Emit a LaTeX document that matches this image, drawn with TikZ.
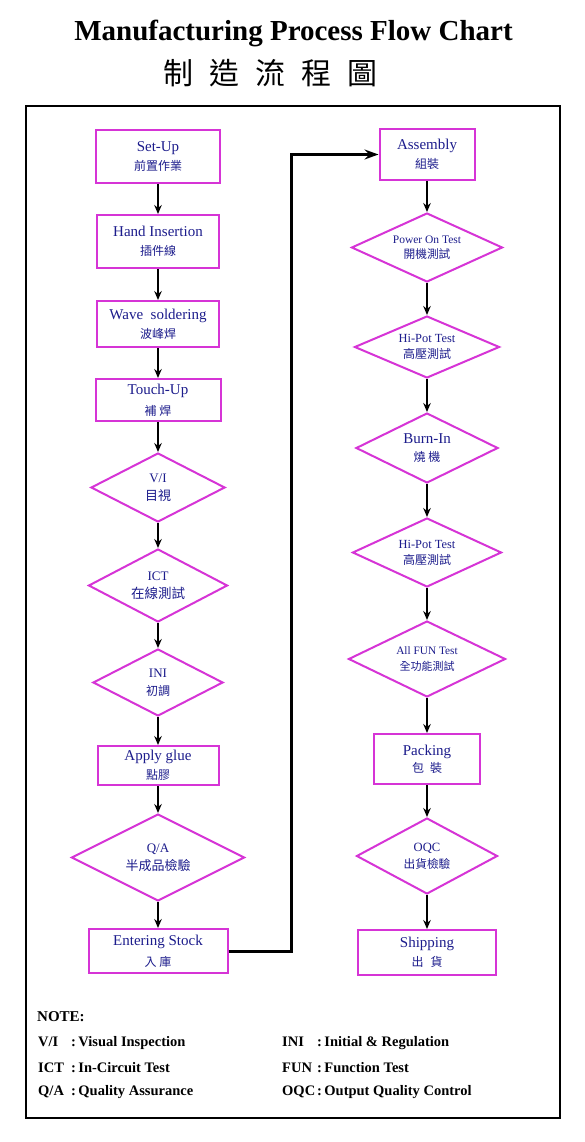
\documentclass[tikz,border=0pt]{standalone}
\usepackage{fontspec}
\setmainfont{Liberation Serif}
\newfontfamily\cjk{Noto Sans CJK TC}
\usepackage{xcolor}
\usepackage{tikz}
\usetikzlibrary{shapes,arrows,arrows.meta,positioning}
\definecolor{boxline}{RGB}{214,52,214}
\definecolor{boxtext}{RGB}{28,28,140}
\newcommand{\zh}[2][12]{{\cjk\fontsize{#1}{19}\selectfont #2}}

\begin{document}
\begin{tikzpicture}[x=1pt, y=-1pt,
    proc/.style={rectangle, draw=boxline, line width=2pt, fill=white, text=boxtext, align=center, font=\fontsize{15}{19}\selectfont, inner sep=0pt},
    check/.style={diamond, aspect=2, draw=boxline, line width=2pt, fill=white, text=boxtext, align=center, font=\fontsize{13}{18}\selectfont, inner sep=0pt},
    arr/.style={-{Stealth[length=9pt, width=7.5pt, inset=3pt]}, line width=2pt},
    bigarr/.style={-{Stealth[length=14pt, width=10pt, inset=5pt]}, line width=3pt},
    note/.style={anchor=west, font=\bfseries\fontsize{14.5}{17}\selectfont, inner sep=0pt}
]
    \useasboundingbox (0,0) rectangle (585,1142);

    % Title
    \node[font=\bfseries\fontsize{29}{34}\selectfont] (title) at (293.5,33) {Manufacturing Process Flow Chart};
    \node[font=\cjk\fontsize{30}{34}\selectfont] (titlezh) at (270.5,73) {制\hspace{16pt}造\hspace{16pt}流\hspace{16pt}程\hspace{16pt}圖};

    % Frame
    \draw[line width=2pt] (26,106) rectangle (560,1118);

    % Left column
    \node[proc, minimum width=124pt, minimum height=53pt] (setup) at (158,156.5) {Set-Up\\\zh{前置作業}};
    \node[proc, minimum width=122pt, minimum height=53pt, below=30pt of setup] (hand) {Hand Insertion\\\zh{插件線}};
    \node[proc, minimum width=122pt, minimum height=46pt, below=31pt of hand] (wave) {Wave\ \ soldering\\\zh{波峰焊}};
    \node[proc, minimum width=125pt, minimum height=42pt, below=30pt of wave, font=\fontsize{15}{21}\selectfont] (touch) {Touch-Up\\\zh{補 焊}};
    \node[check, minimum width=134pt, minimum height=69pt, below=30pt of touch] (vi) {V/I\\\zh[13]{目視}};
    \node[check, minimum width=139pt, minimum height=73pt, below=25pt of vi] (ict) {ICT\\\zh[13.5]{在線測試}};
    \node[check, minimum width=130pt, minimum height=67pt, below=25pt of ict] (ini) {INI\\\zh{初調}};
    \node[proc, minimum width=121pt, minimum height=39pt, below=28pt of ini] (glue) {Apply glue\\\zh{點膠}};
    \node[check, minimum width=173pt, minimum height=87pt, below=27pt of glue] (qa) {Q/A\\\zh[13]{半成品檢驗}};
    \node[proc, minimum width=139pt, minimum height=44pt, below=26pt of qa, font=\fontsize{15}{21}\selectfont] (stock) {Entering Stock\\\zh{入 庫}};

    % Right column
    \node[proc, minimum width=95pt, minimum height=51pt] (assembly) at (427,154.5) {Assembly\\\zh{組裝}};
    \node[check, minimum width=151pt, minimum height=69pt, below=31pt of assembly, font=\fontsize{11.5}{15}\selectfont] (power) {Power On Test\\\zh[11.7]{開機測試}};
    \node[check, minimum width=145pt, minimum height=62pt, below=32pt of power, font=\fontsize{12.4}{16}\selectfont] (hipot) {Hi-Pot Test\\\zh{高壓測試}};
    \node[check, minimum width=142pt, minimum height=70pt, below=33pt of hipot, font=\fontsize{15}{18}\selectfont] (burn) {Burn-In\\\zh{燒 機}};
    \node[check, minimum width=149pt, minimum height=69pt, below=33pt of burn, font=\fontsize{12.4}{16}\selectfont] (hipottwo) {Hi-Pot Test\\\zh{高壓測試}};
    \node[check, minimum width=157pt, minimum height=76pt, below=32pt of hipottwo, font=\fontsize{11.3}{16}\selectfont] (fun) {All FUN Test\\\zh[11]{全功能測試}};
    \node[proc, minimum width=106pt, minimum height=50pt, below=35pt of fun, font=\fontsize{15}{17}\selectfont] (packing) {Packing\\\zh{包\hspace{6pt}裝}};
    \node[check, minimum width=141pt, minimum height=76pt, below=32pt of packing, font=\fontsize{12.6}{17}\selectfont] (oqc) {OQC\\\zh[11.7]{出貨檢驗}};
    \node[proc, minimum width=138pt, minimum height=45pt, below=34pt of oqc] (shipping) {Shipping\\\zh{出\hspace{7pt}貨}};

    % Connections
    \draw[arr] (setup) -- (hand);
    \draw[arr] (hand) -- (wave);
    \draw[arr] (wave) -- (touch);
    \draw[arr] (touch) -- (vi);
    \draw[arr] (vi) -- (ict);
    \draw[arr] (ict) -- (ini);
    \draw[arr] (ini) -- (glue);
    \draw[arr] (glue) -- (qa);
    \draw[arr] (qa) -- (stock);
    \draw[bigarr] (stock.east) -- ++(63,0) |- (assembly.west);
    \draw[arr] (assembly) -- (power);
    \draw[arr] (power) -- (hipot);
    \draw[arr] (hipot) -- (burn);
    \draw[arr] (burn) -- (hipottwo);
    \draw[arr] (hipottwo) -- (fun);
    \draw[arr] (fun) -- (packing);
    \draw[arr] (packing) -- (oqc);
    \draw[arr] (oqc) -- (shipping);

    % Notes
    \node[note, font=\bfseries\fontsize{15}{17}\selectfont] (notehead) at (37,1017) {NOTE:};
    \node[note] (notevi) at (38,1043) {\makebox[33pt][l]{V/I}:\,Visual Inspection};
    \node[note] (noteict) at (38,1068) {\makebox[33pt][l]{ICT}:\,In-Circuit Test};
    \node[note] (noteqa) at (38,1092) {\makebox[33pt][l]{Q/A}:\,Quality Assurance};
    \node[note] (noteini) at (282,1043) {\makebox[35pt][l]{INI}:\,Initial \& Regulation};
    \node[note] (notefun) at (282,1068) {\makebox[35pt][l]{FUN}:\,Function Test};
    \node[note] (noteoqc) at (282,1092) {\makebox[35pt][l]{OQC}:\,Output Quality Control};

\end{tikzpicture}
\end{document}
